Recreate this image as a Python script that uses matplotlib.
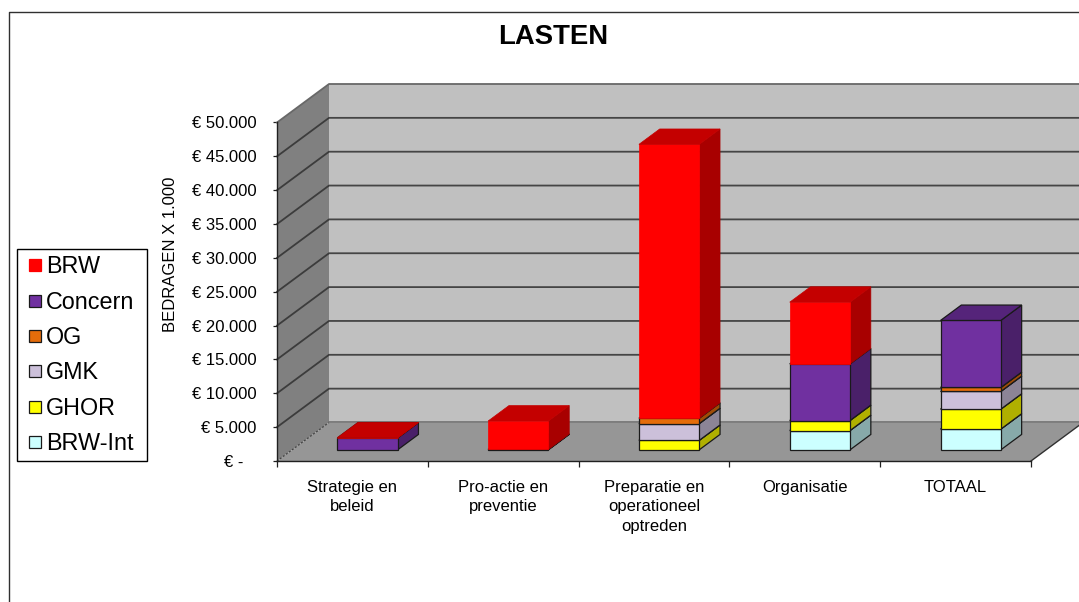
import matplotlib
matplotlib.use("Agg")
import matplotlib.pyplot as plt
from matplotlib.lines import Line2D
from matplotlib.patches import Polygon

plt.rcParams['font.family'] = ['Liberation Sans', 'DejaVu Sans']

# data, bedragen x 1.000
categories = ["Strategie en\nbeleid", "Pro-actie en\npreventie", "Preparatie en\noperationeel\noptreden",
              "Organisatie", "TOTAAL"]
brw_int = [0, 0, 0, 2850, 3060]
ghor = [0, 0, 1400, 1480, 2950]
gmk = [0, 0, 2470, 0, 2610]
og = [0, 0, 800, 0, 590]
concern = [1750, 60, 0, 8370, 9900]
brw = [40, 4200, 40450, 9110, 0]
yticks = list(range(0, 50001, 5000))
ylabels = ["€ -   ", "€ 5.000", "€ 10.000", "€ 15.000", "€ 20.000", "€ 25.000",
           "€ 30.000", "€ 35.000", "€ 40.000", "€ 45.000", "€ 50.000"]

# bottom to top: name, values, front, side, top
series = [
    ("BRW-Int", brw_int, "#CCFFFF", "#87A9A9", "#9CC4C4"),
    ("GHOR", ghor, "#FFFF00", "#B0B000", "#C8C800"),
    ("GMK", gmk, "#CCC0DA", "#8C8496", "#A79DB3"),
    ("OG", og, "#E46C0A", "#A04C07", "#B85808"),
    ("Concern", concern, "#7030A0", "#4A2069", "#55247A"),
    ("BRW", brw, "#FF0000", "#A80000", "#C40000"),
]

# oblique depth of the 3d box, in axis units
DEPTH_X = 52 / 150.8
DEPTH_Y = 5687
BAR_W = 0.4
BAR_D0 = 0.29
BAR_D1 = 0.69


def pt(x, v, d=0.0):
    return (x + d * DEPTH_X, v + d * DEPTH_Y)


W, H = 1079, 602
fig = plt.figure(figsize=(W / 100, H / 100), dpi=100, facecolor="white")
ax = fig.add_axes([277 / W, 1 - 461 / H, 754 / W, 338.5 / H])
ax.set_xlim(0, 5)
ax.set_ylim(0, 50000)
ax.patch.set_visible(False)

n = len(categories)
ymax = yticks[-1]

# walls and floor
ax.add_patch(Polygon([pt(0, 0, 1), pt(n, 0, 1), pt(n, ymax, 1), pt(0, ymax, 1)],
                     fc="#C0C0C0", ec="none", clip_on=False, zorder=1))
ax.add_patch(Polygon([pt(0, 0), pt(0, 0, 1), pt(0, ymax, 1), pt(0, ymax)],
                     fc="#808080", ec="none", clip_on=False, zorder=1))
ax.add_patch(Polygon([pt(0, 0), pt(n, 0), pt(n, 0, 1), pt(0, 0, 1)],
                     fc="#969696", ec="none", clip_on=False, zorder=1))

# gridlines go round the side wall and along the back wall
for v in yticks:
    xs, ys = zip(pt(0, v), pt(0, v, 1), pt(n, v, 1))
    if v == 0:
        ax.plot(xs[:2], ys[:2], color="#404040", lw=0.9, ls=(0, (1.5, 1.5)), clip_on=False, zorder=2)
        ax.plot(xs[1:], ys[1:], color="#707070", lw=1.2, clip_on=False, zorder=2)
    elif v == ymax:
        ax.plot(xs, ys, color="#686868", lw=1.3, clip_on=False, zorder=2)
    else:
        ax.plot(xs, ys, color="#303030", lw=1.3, clip_on=False, zorder=2, alpha=0.85)
ax.plot(*zip(pt(n, 0), pt(n, 0, 1)), color="#303030", lw=1.0, clip_on=False, zorder=2)

# stacked bars
z = 3
for i in range(n):
    x0 = i + 0.5 - BAR_W / 2
    x1 = x0 + BAR_W
    base = 0
    for name, values, front, side, top in series:
        val = values[i]
        if val == 0:
            continue
        ec = "#FF0000" if name == "BRW" else "#1A1A1A"
        sec = "#A80000" if name == "BRW" else "#1A1A1A"
        lw = 0.5 if name == "BRW" else 0.9
        ax.add_patch(Polygon([pt(x1, base, BAR_D0), pt(x1, base, BAR_D1),
                              pt(x1, base + val, BAR_D1), pt(x1, base + val, BAR_D0)],
                             fc=side, ec=sec, lw=lw, clip_on=False, zorder=z))
        ax.add_patch(Polygon([pt(x0, base, BAR_D0), pt(x1, base, BAR_D0),
                              pt(x1, base + val, BAR_D0), pt(x0, base + val, BAR_D0)],
                             fc=front, ec=ec, lw=lw, clip_on=False, zorder=z))
        ax.add_patch(Polygon([pt(x0, base + val, BAR_D0), pt(x1, base + val, BAR_D0),
                              pt(x1, base + val, BAR_D1), pt(x0, base + val, BAR_D1)],
                             fc=top, ec=sec if name != "BRW" else top, lw=lw, clip_on=False, zorder=z))
        base += val
        z += 1

# axes
for s in ["top", "right"]:
    ax.spines[s].set_visible(False)
ax.spines["left"].set_color("#202020")
ax.spines["bottom"].set_color("#202020")
ax.spines["left"].set_linewidth(1.0)
ax.spines["bottom"].set_linewidth(1.0)
ax.spines["left"].set_zorder(50)
ax.spines["bottom"].set_zorder(50)

ax.set_yticks(yticks)
ax.set_yticklabels(ylabels, fontsize=12)
ax.tick_params(axis="y", length=3, width=0.9, pad=11.5, color="#202020")
ax.set_xticks(range(n + 1))
ax.set_xticklabels([""] * (n + 1))
ax.set_xticks([i + 0.5 for i in range(n)], minor=True)
ax.set_xticklabels(categories, minor=True, fontsize=12, linespacing=1.38)
ax.tick_params(axis="x", which="major", length=4, width=0.9, color="#202020")
ax.tick_params(axis="x", which="minor", length=0, pad=13.5)

ax.set_ylabel("BEDRAGEN X 1.000", fontsize=12)
ax.yaxis.set_label_coords((178 - 277) / 754, (461 - 254) / 338.5)

fig.text(553.5 / W, 1 - 37 / H, "LASTEN", fontsize=19.8, fontweight="bold", ha="center", va="center")

# legend, top series first
handles = [Line2D([], [], ls="none", marker="s", ms=8, mfc=s[2], mec="#1A1A1A" if s[0] != "BRW" else s[2], mew=0.9, label=s[0])
           for s in reversed(series)]
leg = fig.legend(handles=handles, loc="lower left", bbox_to_anchor=(16.5 / W, 1 - 461 / H, 130 / W, 212 / H),
                 bbox_transform=fig.transFigure, mode="expand", fontsize=16.8, frameon=True, fancybox=False,
                 edgecolor="black", facecolor="white", framealpha=1, borderaxespad=0,
                 borderpad=0.25, labelspacing=0.53, handlelength=1.09, handletextpad=-0.08)
leg.get_frame().set_linewidth(1.0)

# outer chart frame runs off the picture on the right and at the bottom
fig.add_artist(Line2D([8.5 / W, 8.5 / W, 1], [0, 1 - 12 / H, 1 - 12 / H], color="#303030", lw=1.0,
                      transform=fig.transFigure))

fig.savefig("out.png", dpi=100)
